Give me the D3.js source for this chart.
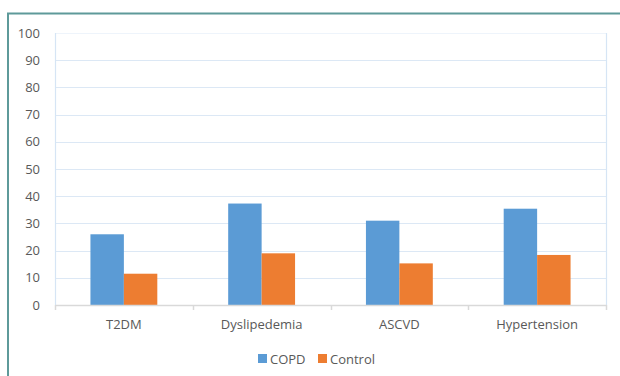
<!DOCTYPE html>
<html>
<head>
<meta charset="utf-8">
<script src="https://cdn.jsdelivr.net/npm/d3@7"></script>
<style>
  html, body { margin: 0; padding: 0; background: #fff; }
  svg { display: block; }
  text { font-family: "Open Sans", "Liberation Sans", Arial, sans-serif; fill: #595959; }
</style>
</head>
<body>
<svg id="chart" width="620" height="376"></svg>
<script>
// Comorbidity prevalence (%) by group
const categories = ["T2DM", "Dyslipedemia", "ASCVD", "Hypertension"];
const seriesNames = ["COPD", "Control"];
const copdValues = [26, 37.3, 31, 35.4];
const controlValues = [11.5, 19, 15.3, 18.4];
const yTicks = [0, 10, 20, 30, 40, 50, 60, 70, 80, 90, 100];
const colors = ["#5b9bd5", "#ed7d31"];

(function () {
  const svg = d3.select("#chart");
  const W = 620, H = 376;
  const plotLeft = 55, plotRight = 606, plotTop = 33, plotBottom = 305;

  // outer frame
  svg.append("rect")
    .attr("x", 8).attr("y", 13.5)
    .attr("width", W + 20).attr("height", H + 20)
    .attr("fill", "none").attr("stroke", "#5e9a9a").attr("stroke-width", 2);

  const x = d3.scaleBand().domain(categories).range([plotLeft, plotRight]);
  const xSub = d3.scaleBand().domain(seriesNames).range([0, x.bandwidth()]).paddingInner(0).paddingOuter(1.06);
  const y = d3.scaleLinear().domain([0, 100]).range([plotBottom, plotTop]);

  // horizontal gridlines
  svg.append("g").selectAll("line").data(yTicks.filter(d => d > 0)).join("line")
    .attr("x1", plotLeft).attr("x2", plotRight)
    .attr("y1", d => Math.round(y(d)) + 0.5).attr("y2", d => Math.round(y(d)) + 0.5)
    .attr("stroke", d => d === 100 ? "#eef4fb" : "#dce8f5").attr("stroke-width", 1.2);

  // side boundary lines
  svg.append("line").attr("x1", plotLeft + 0.5).attr("x2", plotLeft + 0.5).attr("y1", plotTop).attr("y2", plotBottom)
    .attr("stroke", "#d6e5f5").attr("stroke-width", 1.2);
  svg.append("line").attr("x1", plotRight + 0.5).attr("x2", plotRight + 0.5).attr("y1", plotTop).attr("y2", plotBottom)
    .attr("stroke", "#d6e5f5").attr("stroke-width", 1.2);

  // y axis labels
  const yAxis = d3.axisLeft(y).tickValues(yTicks).tickSize(0).tickPadding(15);
  const yg = svg.append("g").attr("transform", `translate(${plotLeft},0)`).call(yAxis);
  yg.select(".domain").remove();
  yg.selectAll("text").attr("font-size", 13).style("fill", "#595959");

  // bars
  const groups = svg.append("g").selectAll("g").data(categories).join("g")
    .attr("transform", d => `translate(${x(d)},0)`);
  groups.selectAll("rect")
    .data((d, i) => [
      { s: seriesNames[0], v: copdValues[i], c: colors[0] },
      { s: seriesNames[1], v: controlValues[i], c: colors[1] }
    ])
    .join("rect")
    .attr("x", d => xSub(d.s))
    .attr("width", xSub.bandwidth())
    .attr("y", d => y(d.v))
    .attr("height", d => y(0) - y(d.v))
    .attr("fill", d => d.c);

  // x axis
  const xAxis = d3.axisBottom(x).tickSize(0).tickPadding(15);
  const xg = svg.append("g").attr("transform", `translate(0,${plotBottom})`).call(xAxis);
  xg.select(".domain").attr("stroke", "#d9d9d9").attr("stroke-width", 1.5);
  xg.selectAll("text").attr("font-size", 13).style("fill", "#595959");
  // category separator ticks
  const sepPositions = categories.map(c => x(c)).concat([x.range()[1]]);
  xg.append("g").selectAll("line").data(sepPositions).join("line")
    .attr("x1", d => Math.round(d) + 0.5).attr("x2", d => Math.round(d) + 0.5)
    .attr("y1", 0).attr("y2", 5)
    .attr("stroke", "#d9d9d9").attr("stroke-width", 1.5);

  // legend
  const legend = svg.append("g").attr("transform", "translate(258,354)");
  const legendItems = legend.selectAll("g").data(seriesNames).join("g")
    .attr("transform", (d, i) => `translate(${i * 60},0)`);
  legendItems.append("rect").attr("width", 9).attr("height", 9).attr("fill", (d, i) => colors[i]);
  legendItems.append("text").attr("x", 12).attr("y", 9.5).attr("font-size", 13).text(d => d);
})();
</script>
</body>
</html>
